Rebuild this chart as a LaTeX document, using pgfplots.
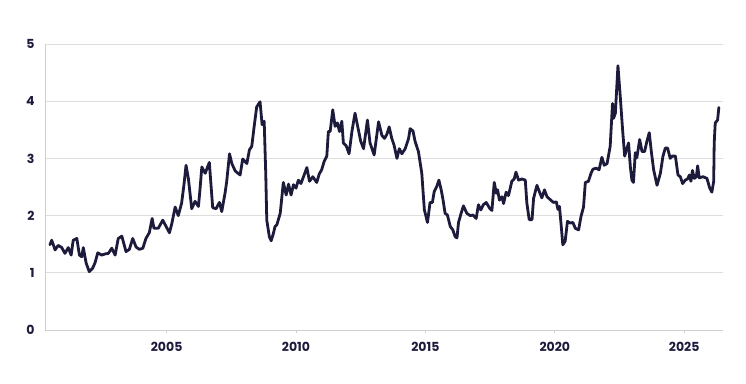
\documentclass[border=0pt]{standalone}
\usepackage{fontspec}
\setmainfont{Poppins}
\usepackage{pgfplots}
\pgfplotsset{compat=1.18}
\definecolor{navy}{HTML}{1D1B3C}
\definecolor{gridc}{HTML}{DEDEDE}
\definecolor{axisc}{HTML}{CFCFCF}
\begin{document}
\begin{tikzpicture}
\path[use as bounding box] (0,0) rectangle (746pt,383pt);
\begin{axis}[
  at={(45pt,53pt)}, anchor=south west,
  scale only axis, width=678pt, height=286pt,
  xmin=2000.3, xmax=2026.5, ymin=0, ymax=5,
  axis x line*=bottom, axis y line*=left,
  axis line style={axisc, line width=1pt},
  xtick={2005,2010,2015,2020,2025},
  ytick={0,1,2,3,4,5},
  xticklabels={2005,2010,2015,2020,2025},
  ymajorgrids, grid style={gridc, line width=0.9pt},
  tick align=outside,
  major tick length=3pt,
  x tick style={axisc, line width=0.9pt},
  y tick style={draw=none},
  /pgf/number format/assume math mode=true,
  tick label style={font=\bfseries\fontsize{12.5}{14}\selectfont, text=navy},
  yticklabel style={xshift=-4pt},
  xticklabel style={yshift=-6pt},
]
\addplot[navy, line width=2.8pt, line join=round, line cap=round] coordinates {
(2000.49,1.49)(2000.56,1.57)(2000.69,1.40)(2000.81,1.48)(2000.95,1.44)(2001.07,1.34)
(2001.20,1.44)(2001.31,1.31)(2001.39,1.57)(2001.53,1.60)(2001.63,1.31)(2001.72,1.28)
(2001.78,1.44)(2001.89,1.17)(2002.01,1.02)(2002.14,1.08)(2002.23,1.17)(2002.34,1.35)
(2002.49,1.31)(2002.62,1.33)(2002.75,1.34)(2002.88,1.43)(2003.01,1.31)(2003.13,1.60)
(2003.27,1.64)(2003.43,1.37)(2003.56,1.41)(2003.69,1.60)(2003.82,1.45)(2003.95,1.41)
(2004.08,1.43)(2004.20,1.60)(2004.33,1.70)(2004.44,1.95)(2004.51,1.78)(2004.68,1.78)
(2004.85,1.92)(2004.98,1.81)(2005.11,1.70)(2005.20,1.86)(2005.33,2.15)(2005.45,2.00)
(2005.58,2.22)(2005.67,2.54)(2005.75,2.88)(2005.84,2.65)(2005.97,2.12)(2006.10,2.25)
(2006.23,2.16)(2006.29,2.46)(2006.36,2.85)(2006.49,2.74)(2006.65,2.93)(2006.78,2.14)
(2006.91,2.12)(2007.04,2.23)(2007.13,2.07)(2007.26,2.40)(2007.32,2.59)(2007.43,3.08)
(2007.52,2.91)(2007.65,2.78)(2007.84,2.71)(2007.94,2.99)(2008.10,2.91)(2008.20,3.15)
(2008.29,3.21)(2008.38,3.55)(2008.48,3.90)(2008.61,3.99)(2008.69,3.59)(2008.77,3.65)
(2008.83,2.74)(2008.87,1.92)(2008.97,1.63)(2009.04,1.56)(2009.12,1.68)(2009.19,1.81)
(2009.26,1.84)(2009.39,2.04)(2009.51,2.58)(2009.62,2.36)(2009.71,2.55)(2009.81,2.36)
(2009.90,2.54)(2010.00,2.48)(2010.09,2.62)(2010.19,2.56)(2010.29,2.68)(2010.42,2.84)
(2010.52,2.60)(2010.65,2.68)(2010.80,2.58)(2010.90,2.73)(2010.99,2.80)(2011.09,2.95)
(2011.19,3.04)(2011.25,3.47)(2011.32,3.47)(2011.42,3.85)(2011.51,3.56)(2011.60,3.62)
(2011.68,3.47)(2011.77,3.65)(2011.83,3.27)(2011.94,3.22)(2012.05,3.08)(2012.16,3.47)
(2012.28,3.79)(2012.41,3.50)(2012.50,3.30)(2012.61,3.17)(2012.76,3.67)(2012.86,3.27)
(2013.02,3.06)(2013.19,3.64)(2013.32,3.40)(2013.42,3.35)(2013.51,3.42)(2013.60,3.55)
(2013.70,3.35)(2013.79,3.23)(2013.90,3.00)(2013.99,3.17)(2014.09,3.08)(2014.22,3.17)
(2014.35,3.35)(2014.41,3.52)(2014.52,3.48)(2014.60,3.30)(2014.73,3.12)(2014.86,2.74)
(2014.96,2.10)(2015.08,1.88)(2015.18,2.23)(2015.27,2.23)(2015.34,2.42)(2015.44,2.51)
(2015.52,2.62)(2015.61,2.45)(2015.68,2.28)(2015.76,2.04)(2015.85,2.01)(2015.96,1.81)
(2016.06,1.75)(2016.15,1.63)(2016.22,1.61)(2016.28,1.88)(2016.38,2.04)(2016.47,2.17)
(2016.60,2.04)(2016.73,2.00)(2016.84,2.01)(2016.96,1.95)(2017.05,2.19)(2017.14,2.10)
(2017.24,2.19)(2017.35,2.23)(2017.48,2.13)(2017.57,2.09)(2017.66,2.58)(2017.74,2.39)
(2017.79,2.45)(2017.86,2.27)(2017.96,2.33)(2018.02,2.21)(2018.12,2.41)(2018.21,2.35)
(2018.34,2.60)(2018.43,2.64)(2018.50,2.76)(2018.60,2.62)(2018.73,2.64)(2018.86,2.62)
(2018.92,2.22)(2019.01,1.93)(2019.12,1.93)(2019.18,2.30)(2019.31,2.53)(2019.41,2.41)
(2019.50,2.31)(2019.60,2.45)(2019.70,2.33)(2019.82,2.28)(2019.95,2.23)(2020.06,2.24)
(2020.12,2.11)(2020.18,2.16)(2020.25,1.81)(2020.31,1.49)(2020.40,1.55)(2020.49,1.90)
(2020.60,1.87)(2020.70,1.88)(2020.79,1.78)(2020.92,1.75)(2021.01,1.98)(2021.11,2.15)
(2021.18,2.58)(2021.30,2.60)(2021.40,2.74)(2021.47,2.81)(2021.60,2.83)(2021.71,2.80)
(2021.82,3.02)(2021.91,2.88)(2022.02,2.91)(2022.14,3.21)(2022.23,3.96)(2022.27,3.70)
(2022.34,3.79)(2022.44,4.62)(2022.53,4.08)(2022.62,3.50)(2022.70,3.04)(2022.79,3.18)
(2022.85,3.27)(2022.92,2.85)(2022.98,2.62)(2023.04,2.58)(2023.11,3.10)(2023.17,3.01)
(2023.28,3.33)(2023.37,3.12)(2023.47,3.12)(2023.56,3.30)(2023.65,3.45)(2023.73,3.12)
(2023.82,2.80)(2023.95,2.53)(2024.08,2.74)(2024.18,3.04)(2024.27,3.18)(2024.36,3.18)
(2024.46,3.00)(2024.53,3.04)(2024.66,3.04)(2024.76,2.71)(2024.85,2.68)(2024.94,2.56)
(2025.04,2.62)(2025.13,2.64)(2025.20,2.71)(2025.26,2.60)(2025.32,2.79)(2025.39,2.65)
(2025.47,2.68)(2025.52,2.87)(2025.58,2.66)(2025.73,2.68)(2025.88,2.65)(2025.98,2.49)
(2026.07,2.41)(2026.14,2.60)(2026.16,3.27)(2026.20,3.62)(2026.29,3.67)(2026.34,3.89)
};
\end{axis}
\end{tikzpicture}
\end{document}
